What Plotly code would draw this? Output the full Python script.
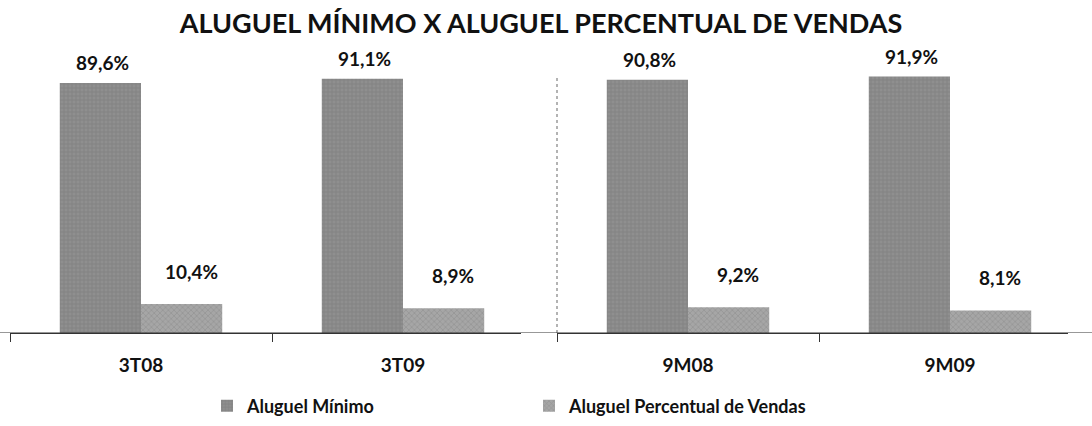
import plotly.graph_objects as go

# Rent composition (% of total rent) per period
periodos_tri = ["3T08", "3T09"]
periodos_acum = ["9M08", "9M09"]
aluguel_minimo_tri = [89.6, 91.1]
aluguel_percentual_tri = [10.4, 8.9]
aluguel_minimo_acum = [90.8, 91.9]
aluguel_percentual_acum = [9.2, 8.1]

serie_minimo = "Aluguel Mínimo"
serie_percentual = "Aluguel Percentual de Vendas"
titulo = "ALUGUEL MÍNIMO X ALUGUEL PERCENTUAL DE VENDAS"

FONT = "Lato"
COR_MIN = "#8f8f8f"
COR_PCT = "#a6a6a6"

W, H = 1092, 426
CAT_PX = 262  # width of one category slot in pixels
X_END = 1.45  # right end of each categorical axis


def fmt(v):
    return f"{v:.1f}".replace(".", ",") + "%"


def fonte(size):
    return dict(family=FONT, size=size, color="#111111", weight="bold")


fig = go.Figure()

grupos = [
    ("x", "y", periodos_tri, aluguel_minimo_tri, aluguel_percentual_tri, True),
    ("x2", "y2", periodos_acum, aluguel_minimo_acum, aluguel_percentual_acum, False),
]

for xa, ya, cats, vmin, vpct, leg in grupos:
    fig.add_trace(go.Bar(
        x=cats, y=vmin, name=serie_minimo, xaxis=xa, yaxis=ya,
        legendgroup="min", showlegend=leg,
        marker=dict(color=COR_MIN, line=dict(width=0),
                    pattern=dict(shape="+", fgcolor="#6e6e6e", bgcolor=COR_MIN,
                                 size=4, solidity=0.3)),
    ))
    fig.add_trace(go.Bar(
        x=cats, y=vpct, name=serie_percentual, xaxis=xa, yaxis=ya,
        legendgroup="pct", showlegend=leg,
        marker=dict(color=COR_PCT, line=dict(width=0),
                    pattern=dict(shape="x", fgcolor="#7d7d7d", bgcolor=COR_PCT,
                                 size=4, solidity=0.3)),
    ))
    # value labels above each bar
    for c, a, b in zip(cats, vmin, vpct):
        fig.add_annotation(x=c, y=a, xref=xa, yref=ya, text=fmt(a),
                           showarrow=False, xshift=-39, yshift=7, yanchor="bottom",
                           font=fonte(19))
        fig.add_annotation(x=c, y=b, xref=xa, yref=ya, text=fmt(b),
                           showarrow=False, xshift=50, yshift=19, yanchor="bottom",
                           font=fonte(19))

top_m, bot_m = 50, 93
ymax = (H - top_m - bot_m) / 2.79

eixo_x = dict(type="category", range=[-0.5, X_END],
              showline=True, linecolor="#333333", linewidth=1.2,
              ticks="outside", ticklen=8, tickcolor="#333333", tickson="boundaries",
              tickfont=fonte(19),
              showgrid=False, zeroline=False, ticklabelstandoff=15)
eixo_y = dict(range=[0, ymax], visible=False, showgrid=False, zeroline=False)

span = (X_END + 0.5) * CAT_PX

fig.update_layout(
    width=W, height=H,
    margin=dict(l=0, r=0, t=top_m, b=bot_m),
    paper_bgcolor="white", plot_bgcolor="white",
    barmode="group", bargap=0.38, bargroupgap=0,
    title=dict(text=titulo, x=541 / W, xanchor="center", y=1 - 24 / H, yanchor="middle",
               font=fonte(27)),
    xaxis=dict(domain=[10 / W, (10 + span) / W], anchor="y", **eixo_x),
    xaxis2=dict(domain=[557 / W, (557 + span) / W], anchor="y2", **eixo_x),
    yaxis=dict(anchor="x", **eixo_y),
    yaxis2=dict(anchor="x2", **eixo_y),
    legend=dict(orientation="h", x=207 / W, xanchor="left", y=1 - 406 / H, yanchor="middle",
                yref="container", entrywidth=277, entrywidthmode="pixels",
                font=fonte(18),
                itemclick=False, itemdoubleclick=False, traceorder="normal"),
    showlegend=True,
)

# dotted separator between the quarterly and year-to-date panels
fig.add_shape(type="line", xref="x2 domain", yref="y2", x0=0, x1=0, y0=0, y1=92,
              line=dict(color="#9a9a9a", width=1.5, dash="dot"))
# continuous baseline across both panels
fig.add_shape(type="line", xref="paper", yref="y", x0=0, x1=1, y0=0, y1=0,
              line=dict(color="#333333", width=1.2))

fig.write_html("out.html")
